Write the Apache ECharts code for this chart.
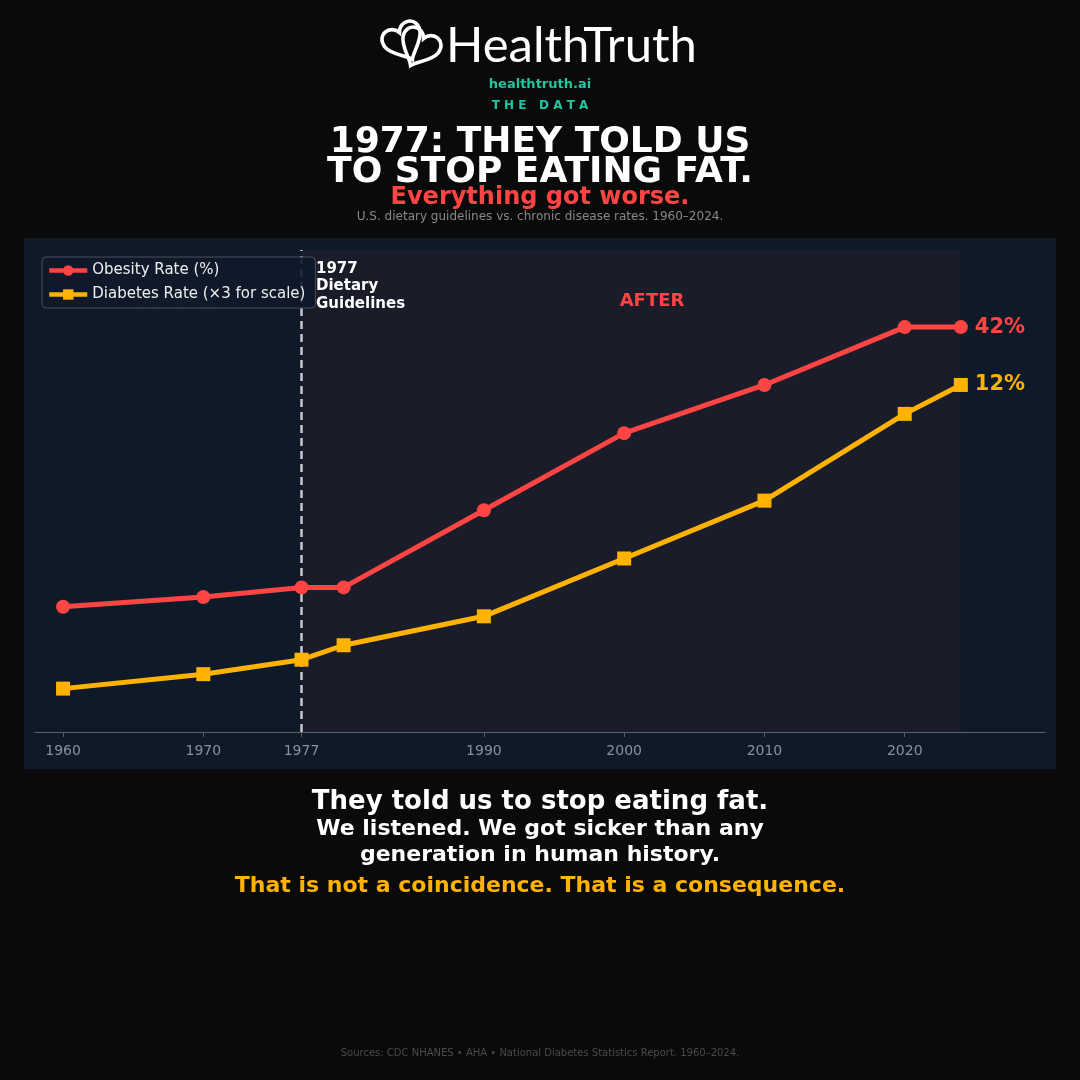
<!DOCTYPE html>
<html><head><meta charset="utf-8">
<script src="https://cdn.jsdelivr.net/npm/echarts@6/dist/echarts.min.js"></script>
<style>html,body{margin:0;padding:0;background:#0a0a0a;}#c{width:1080px;height:1080px;}</style>
</head><body><div id="c"></div>
<script>
const years = [1960, 1970, 1977, 1980, 1990, 2000, 2010, 2020, 2024];
const obesity = [13, 14, 15, 15, 23, 31, 36, 42, 42];
const diabetes = [1.5, 2, 2.5, 3, 4, 6, 8, 11, 12];
const diabetesScale = 3;
const xTicks = [1960, 1970, 1977, 1990, 2000, 2010, 2020];
const guidelineYear = 1977;
const lastYear = 2024;

const F = '"DejaVu Sans", sans-serif';
const RED = '#ff4444', YEL = '#ffb300', GREEN = '#1fc6a0';

// heart outline shape for the logo
echarts.graphic.registerShape('heartOutline', echarts.graphic.extendShape({
  shape: {cx: 0, cy: 0, s: 1},
  buildPath: function (ctx, sh) {
    const x = sh.cx, y = sh.cy, s = sh.s;
    ctx.moveTo(x, y - 5 * s);
    ctx.bezierCurveTo(x - 4 * s, y - 14 * s, x - 17 * s, y - 11 * s, x - 15 * s, y);
    ctx.bezierCurveTo(x - 13 * s, y + 8 * s, x - 3 * s, y + 13 * s, x, y + 18 * s);
    ctx.bezierCurveTo(x + 3 * s, y + 13 * s, x + 13 * s, y + 8 * s, x + 15 * s, y);
    ctx.bezierCurveTo(x + 17 * s, y - 11 * s, x + 4 * s, y - 14 * s, x, y - 5 * s);
    ctx.closePath();
  }
}));

const chart = echarts.init(document.getElementById('c'), null, {renderer: 'canvas'});

function endLabel(i, n, fmt, color) {
  return i === n - 1 ? {show: true, position: 'right', distance: 7, formatter: fmt, color: color, fontFamily: F, fontWeight: 'bold', fontSize: 21} : {show: false};
}

const obData = years.map((y, i) => ({value: [y, obesity[i]], label: endLabel(i, years.length, p => Math.round(p.value[1]) + '%', RED)}));
const diData = years.map((y, i) => ({value: [y, diabetes[i] * diabetesScale], label: endLabel(i, years.length, p => Math.round(p.value[1] / diabetesScale) + '%', YEL)}));

const option = {
  backgroundColor: '#0a0a0a',
  animation: false,
  grid: {left: 35, right: 35, top: 250, bottom: 348},
  xAxis: {
    type: 'value', min: 1958, max: 2030,
    splitLine: {show: false},
    axisLine: {show: true, lineStyle: {color: '#5a5f69', width: 1.2}},
    axisTick: {show: true, customValues: xTicks, length: 5, lineStyle: {color: '#5a5f69'}},
    axisLabel: {customValues: xTicks, color: '#8a8f99', fontFamily: F, fontSize: 14, margin: 12, formatter: v => String(v)}
  },
  yAxis: {type: 'value', min: 0, max: 50, show: false, splitLine: {show: false}},
  legend: {
    z: 20,
    orient: 'vertical', left: 42, top: 257,
    backgroundColor: 'rgba(15,26,42,0.9)', borderColor: '#4a4f5a', borderWidth: 1, borderRadius: 4,
    padding: [6, 10, 6, 5], itemGap: 9, itemWidth: 38, itemHeight: 13,
    lineStyle: {width: 4.5},
    textStyle: {color: '#eeeeee', fontFamily: F, fontSize: 15},
    data: ['Obesity Rate (%)', 'Diabetes Rate (\u00d73 for scale)']
  },
  graphic: [
    {type: 'rect', z: -10, silent: true, shape: {x: 24, y: 238, width: 1032, height: 531}, style: {fill: '#0f1a29'}},
    // logo icon
    {type: 'heartOutline', shape: {cx: 404, cy: 38, s: 1.3}, rotation: 0.45, originX: 404, originY: 42, style: {fill: 'none', stroke: '#ffffff', lineWidth: 3.6}},
    {type: 'heartOutline', shape: {cx: 419, cy: 44, s: 1.3}, rotation: -0.45, originX: 419, originY: 48, style: {fill: 'none', stroke: '#ffffff', lineWidth: 3.6}},
    {type: 'text', x: 446, y: 46, style: {text: 'HealthTruth', fill: '#ffffff', font: '400 49px Lato, "Open Sans", sans-serif', textAlign: 'left', textVerticalAlign: 'middle'}},
    {type: 'text', x: 540, y: 85, style: {text: 'healthtruth.ai', fill: GREEN, font: 'bold 13px ' + F, textAlign: 'center', textVerticalAlign: 'middle'}},
    {type: 'text', x: 540, y: 106, style: {text: 'T H E   D A T A', fill: GREEN, font: 'bold 12px ' + F, textAlign: 'center', textVerticalAlign: 'middle'}},
    {type: 'text', x: 540, y: 143, style: {text: '1977: THEY TOLD US', fill: '#ffffff', font: 'bold 36px ' + F, textAlign: 'center', textVerticalAlign: 'middle'}},
    {type: 'text', x: 540, y: 173, style: {text: 'TO STOP EATING FAT.', fill: '#ffffff', font: 'bold 36px ' + F, textAlign: 'center', textVerticalAlign: 'middle'}},
    {type: 'text', x: 540, y: 198, style: {text: 'Everything got worse.', fill: RED, font: 'bold 24px ' + F, textAlign: 'center', textVerticalAlign: 'middle'}},
    {type: 'text', x: 540, y: 217, style: {text: 'U.S. dietary guidelines vs. chronic disease rates. 1960\u20132024.', fill: '#888888', font: '12px ' + F, textAlign: 'center', textVerticalAlign: 'middle'}},
    // annotations in chart
    {type: 'text', z: 1, x: 175, y: 301, style: {text: 'BEFORE', fill: '#163a36', font: 'bold 18px ' + F, textAlign: 'center', textVerticalAlign: 'middle'}},
    {type: 'text', z: 50, x: 652, y: 301, style: {text: 'AFTER', fill: RED, font: 'bold 18px ' + F, textAlign: 'center', textVerticalAlign: 'middle'}},
    {type: 'text', z: 50, x: 316, y: 260, style: {text: '1977\nDietary\nGuidelines', fill: '#ffffff', font: 'bold 15px ' + F, lineHeight: 17.5, textAlign: 'left', textVerticalAlign: 'top'}},
    // bottom text
    {type: 'text', x: 540, y: 802, style: {text: 'They told us to stop eating fat.', fill: '#ffffff', font: 'bold 26px ' + F, textAlign: 'center', textVerticalAlign: 'middle'}},
    {type: 'text', x: 540, y: 829, style: {text: 'We listened. We got sicker than any', fill: '#ffffff', font: 'bold 22px ' + F, textAlign: 'center', textVerticalAlign: 'middle'}},
    {type: 'text', x: 540, y: 855, style: {text: 'generation in human history.', fill: '#ffffff', font: 'bold 22px ' + F, textAlign: 'center', textVerticalAlign: 'middle'}},
    {type: 'text', x: 540, y: 886, style: {text: 'That is not a coincidence. That is a consequence.', fill: YEL, font: 'bold 22px ' + F, textAlign: 'center', textVerticalAlign: 'middle'}},
    {type: 'text', x: 540, y: 1053, style: {text: 'Sources: CDC NHANES \u2022 AHA \u2022 National Diabetes Statistics Report. 1960\u20132024.', fill: '#4a4a4a', font: '10px ' + F, textAlign: 'center', textVerticalAlign: 'middle'}}
  ],
  series: [
    {
      name: 'Obesity Rate (%)', type: 'line', data: obData, z: 3,
      symbol: 'circle', symbolSize: 14, showAllSymbol: true,
      lineStyle: {color: RED, width: 5}, itemStyle: {color: RED},
      markArea: {silent: true, z: -1, itemStyle: {color: '#1a1c2a'}, data: [[{xAxis: guidelineYear}, {xAxis: lastYear}]]},
      markLine: {silent: true, z: 2, symbol: 'none', label: {show: false}, lineStyle: {color: '#c4c7cc', type: [8, 5], width: 2.5}, data: [{xAxis: guidelineYear}]}
    },
    {
      name: 'Diabetes Rate (\u00d73 for scale)', type: 'line', data: diData, z: 3,
      symbol: 'rect', symbolSize: 14, showAllSymbol: true,
      lineStyle: {color: YEL, width: 5}, itemStyle: {color: YEL}
    }
  ]
};
chart.setOption(option);
</script></body></html>
